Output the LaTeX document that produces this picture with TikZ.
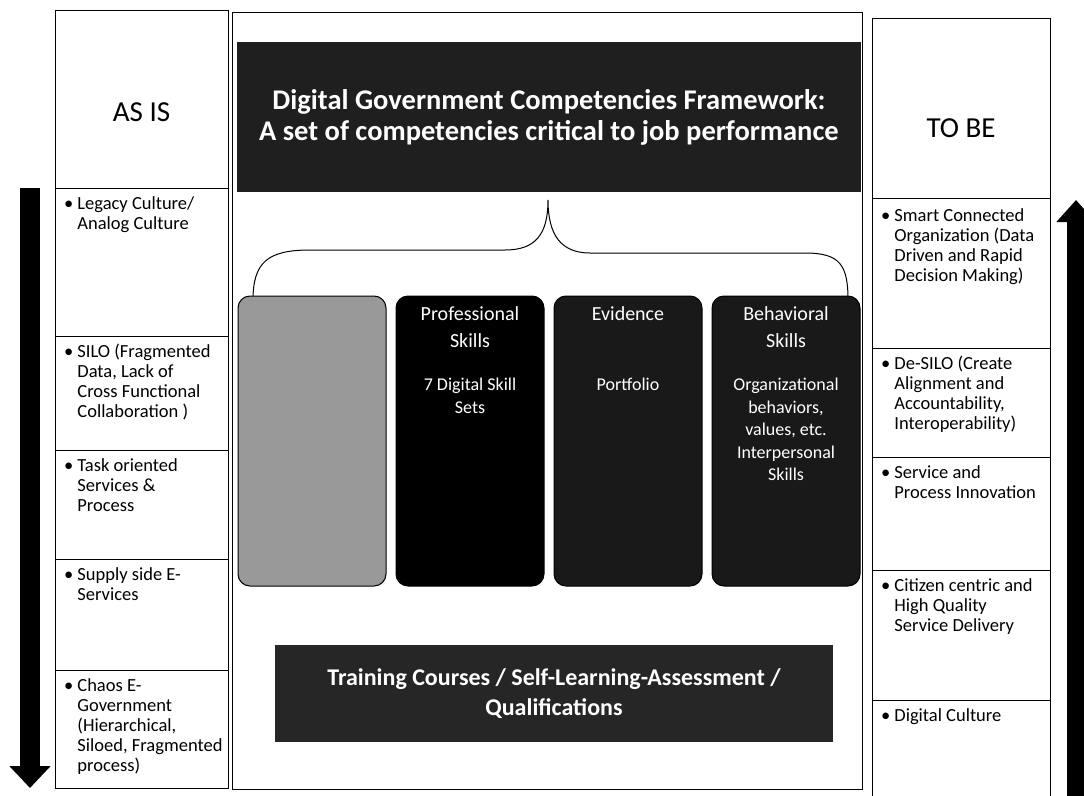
\documentclass[tikz,border=0pt]{standalone}
\usepackage{fontspec}
\setmainfont{Carlito}
\usetikzlibrary{positioning, arrows.meta}
\tikzset{
x=1pt, y=-1pt, % one unit is one pixel of the picture, y runs down
colbox/.style={draw, line width=1pt, outer sep=0pt, minimum width=173pt}, % boxes of the two side columns
itemtext/.style={inner sep=0pt, font=\fontsize{18.5}{20}\selectfont}, % bullet text in the columns
skillbox/.style={draw, line width=1pt, rounded corners=12pt, minimum width=148pt, minimum height=290pt, outer sep=0pt}, % the four competency boxes
headtext/.style={text=white, inner sep=0pt, align=center, font=\fontsize{20}{27}\selectfont}, % box headings
subtext/.style={text=white, inner sep=0pt, align=center, font=\fontsize{18}{22.5}\selectfont}, % text under the headings
darkbar/.style={fill=black!88, text=white, align=center}, % title and training bars
bigarrow/.style={-{Triangle[length=22pt, width=40pt]}}, % the two thick arrows
}
\newcommand{\bitem}[1]{\begin{tabular}[t]{@{}l@{\hspace{4pt}}l@{}}\textbullet & #1\end{tabular}}

\begin{document}
\begin{tikzpicture}
    \useasboundingbox (0,0) rectangle (1084,795);

    % AS IS column
    \node[colbox, minimum height=178pt] (asis) at (141.5,99) {};
    \node[font=\fontsize{29}{32}\selectfont] (asislbl) at ([yshift=-13pt]asis.center) {AS IS};
    \node[colbox, minimum height=148pt, below=0pt of asis] (legacy) {};
    \node[colbox, minimum height=114pt, below=0pt of legacy] (silo) {};
    \node[colbox, minimum height=109pt, below=0pt of silo] (task) {};
    \node[colbox, minimum height=111pt, below=0pt of task] (supply) {};
    \node[colbox, minimum height=118pt, below=0pt of supply] (chaos) {};
    \node[itemtext, below right=7pt and 9pt of legacy.north west] (legacytxt) {\bitem{Legacy Culture/\\ & Analog Culture}};
    \node[itemtext, below right=7pt and 9pt of silo.north west] (silotxt) {\bitem{SILO (Fragmented\\ & Data, Lack of\\ & Cross Functional\\ & Collaboration )}};
    \node[itemtext, below right=7pt and 9pt of task.north west] (tasktxt) {\bitem{Task oriented\\ & Services \&\\ & Process}};
    \node[itemtext, below right=7pt and 9pt of supply.north west] (supplytxt) {\bitem{Supply side E-\\ & Services}};
    \node[itemtext, below right=7pt and 9pt of chaos.north west] (chaostxt) {\bitem{Chaos E-\\ & Government\\ & (Hierarchical,\\ & Siloed, Fragmented\\ & process)}};

    % TO BE column
    \node[colbox, minimum width=178pt, minimum height=180pt] (tobe) at (961,108) {};
    \node[font=\fontsize{29}{32}\selectfont] (tobelbl) at ([yshift=-20pt]tobe.center) {TO BE};
    \node[colbox, minimum width=178pt, minimum height=150pt, below=0pt of tobe] (smart) {};
    \node[colbox, minimum width=178pt, minimum height=109pt, below=0pt of smart] (desilo) {};
    \node[colbox, minimum width=178pt, minimum height=113pt, below=0pt of desilo] (service) {};
    \node[colbox, minimum width=178pt, minimum height=130pt, below=0pt of service] (citizen) {};
    \node[colbox, minimum width=178pt, minimum height=97pt, below=0pt of citizen] (digital) {};
    \node[itemtext, below right=9pt and 9pt of smart.north west] (smarttxt) {\bitem{Smart Connected\\ & Organization (Data\\ & Driven and Rapid\\ & Decision Making)}};
    \node[itemtext, below right=7pt and 9pt of desilo.north west] (desilotxt) {\bitem{De-SILO (Create\\ & Alignment and\\ & Accountability,\\ & Interoperability)}};
    \node[itemtext, below right=7pt and 9pt of service.north west] (servicetxt) {\bitem{Service and\\ & Process Innovation}};
    \node[itemtext, below right=7pt and 9pt of citizen.north west] (citizentxt) {\bitem{Citizen centric and\\ & High Quality\\ & Service Delivery}};
    \node[itemtext, below right=7pt and 9pt of digital.north west] (digitaltxt) {\bitem{Digital Culture}};

    % framework in the middle
    \node[draw, line width=1pt, minimum width=630pt, minimum height=777pt] (outer) at (547,400.5) {};
    \node[darkbar, minimum width=624pt, minimum height=150pt, font=\fontsize{28.5}{31}\selectfont\bfseries] (title) at (549,117)
        {Digital Government Competencies Framework:\\A set of competencies critical to job performance};
    \draw[line width=1pt] (253,300) .. controls (253,262) and (268,250) .. (310,250) -- (505,250)
        .. controls (535,250) and (548,235) .. (548,200)
        .. controls (548,235) and (561,253) .. (590,253) -- (805,253)
        .. controls (840,253) and (848,265) .. (848,300);

    \node[skillbox, fill=black!40] (b1) at (312,441) {};
    \node[skillbox, fill=black, right=10pt of b1] (b2) {};
    \node[skillbox, fill=black!90, right=10pt of b2] (b3) {};
    \node[skillbox, fill=black!90, right=10pt of b3] (b4) {};
    \node[headtext, below=10pt of b2.north] (b2head) {Professional\\Skills};
    \node[subtext, below=82pt of b2.north] (b2sub) {7 Digital Skill\\Sets};
    \node[headtext, below=10pt of b3.north] (b3head) {Evidence};
    \node[subtext, below=82pt of b3.north] (b3sub) {Portfolio};
    \node[headtext, below=10pt of b4.north] (b4head) {Behavioral\\Skills};
    \node[subtext, below=82pt of b4.north] (b4sub) {Organizational\\behaviors,\\values, etc.\\Interpersonal\\Skills};

    \node[darkbar, fill=black!85, minimum width=558pt, minimum height=97pt, font=\fontsize{24}{30}\selectfont\bfseries] (train) at (554,693.5)
        {Training Courses / Self-Learning-Assessment /\\Qualifications};

    % thick arrows beside the columns
    \coordinate (ltop) at (30,188);
    \coordinate (lend) at (30,788);
    \draw[line width=20pt, bigarrow] (ltop) -- (lend);
    \coordinate (rfoot) at (1076,797);
    \coordinate (rtip) at (1076,200);
    \draw[line width=19pt, -{Triangle[length=22pt, width=38pt]}] (rfoot) -- (rtip);
\end{tikzpicture}
\end{document}
